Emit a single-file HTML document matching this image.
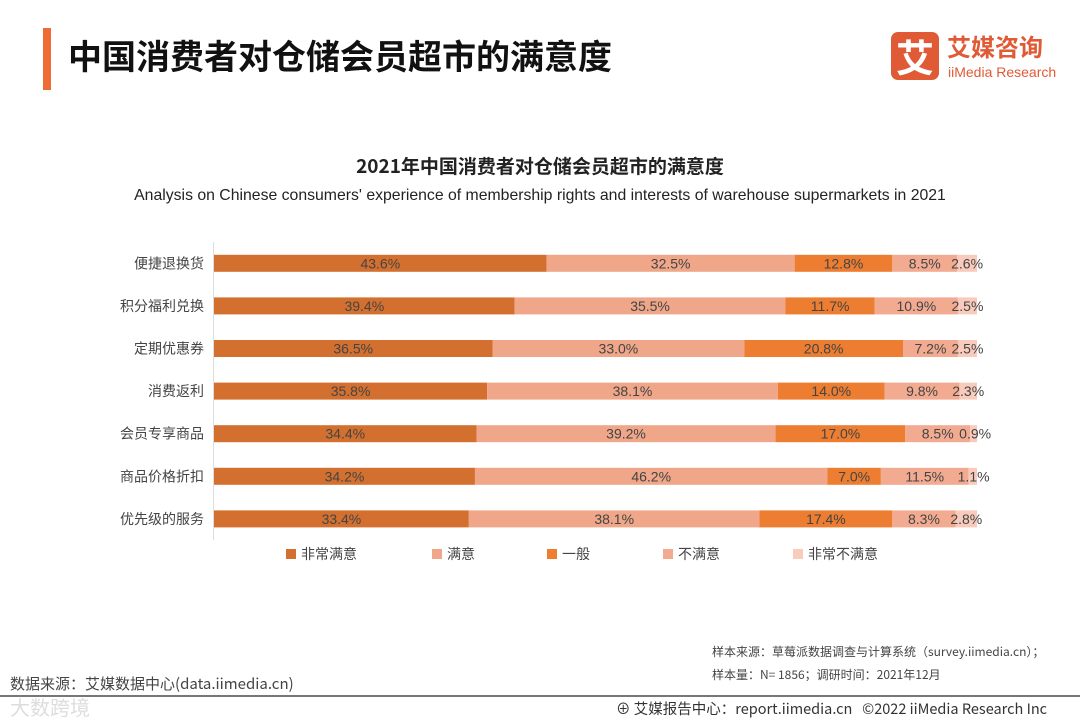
<!DOCTYPE html>
<html><head><meta charset="utf-8"><style>
body{margin:0;width:1080px;height:720px;background:#fff;position:relative;overflow:hidden;font-family:"Liberation Sans","Noto Sans CJK SC",sans-serif;}
.abs{position:absolute}
</style></head><body>
<div class="abs" style="left:43px;top:28px;width:8px;height:62px;background:#ee6b35"></div>
<div class="abs" style="left:68px;top:30px;font-size:34px;font-weight:bold;color:#111;font-family:'Noto Sans CJK SC',sans-serif">中国消费者对仓储会员超市的满意度</div>
<div class="abs" style="left:891px;top:32px;width:48px;height:48px;background:#e05a35;border-radius:7px;color:#fff;font-size:38px;line-height:48px;text-align:center;font-family:'Noto Sans CJK SC',sans-serif;font-weight:bold">艾</div>
<div class="abs" style="left:947px;top:30px;font-size:24px;font-weight:bold;color:#e05a35;font-family:'Noto Sans CJK SC',sans-serif;line-height:32px">艾媒咨询</div>
<div class="abs" style="left:948px;top:64px;font-size:14px;color:#e05a35">iiMedia Research</div>
<div class="abs" style="left:0;width:1080px;top:152px;text-align:center;font-size:19px;font-weight:bold;color:#222;font-family:'Noto Sans CJK SC',sans-serif">2021年中国消费者对仓储会员超市的满意度</div>
<div class="abs" style="left:0;width:1080px;top:187px;text-align:center;font-size:15.8px;color:#222">Analysis on Chinese consumers' experience of membership rights and interests of warehouse supermarkets in 2021</div>
<svg class="abs" style="left:0;top:0" width="1080" height="720" id="chart"></svg>
<div class="abs" style="left:712px;top:643px;font-size:12px;color:#444;font-family:'Noto Sans CJK SC',sans-serif">样本来源：草莓派数据调查与计算系统（survey.iimedia.cn）；</div>
<div class="abs" style="left:712px;top:666px;font-size:12px;color:#444;font-family:'Noto Sans CJK SC',sans-serif">样本量：N= 1856；调研时间：2021年12月</div>
<div class="abs" style="left:10px;top:673px;font-size:15px;color:#444;font-family:'Noto Sans CJK SC',sans-serif">数据来源：艾媒数据中心(data.iimedia.cn)</div>
<div class="abs" style="left:0;top:695px;width:1080px;height:2px;background:#777"></div>
<div class="abs" style="left:10px;top:692px;font-size:20px;color:#ddd;font-family:'Noto Sans CJK SC',sans-serif">大数跨境</div>
<div class="abs" style="left:616px;top:698px;font-size:14.5px;color:#333;font-family:'Noto Sans CJK SC',sans-serif">⊕ 艾媒报告中心：report.iimedia.cn &nbsp; ©2022 iiMedia Research Inc</div>
<script>
const categories=["便捷退换货","积分福利兑换","定期优惠券","消费返利","会员专享商品","商品价格折扣","优先级的服务"];
const seriesNames=["非常满意","满意","一般","不满意","非常不满意"];
const s1=[43.6,39.4,36.5,35.8,34.4,34.2,33.4];
const s2=[32.5,35.5,33.0,38.1,39.2,46.2,38.1];
const s3=[12.8,11.7,20.8,14.0,17.0,7.0,17.4];
const s4=[8.5,10.9,7.2,9.8,8.5,11.5,8.3];
const s5=[2.6,2.5,2.5,2.3,0.9,1.1,2.8];
const series=[s1,s2,s3,s4,s5];
const colors=["#d3702f","#f0a688","#ed7d31","#f2ab91","#f8cbbc"];
const svg=document.getElementById('chart');const NS='http://www.w3.org/2000/svg';
const x0=214,x1=977,yTop=242,band=42.6,bh=17;
const xs=v=>x0+(x1-x0)*v/100;
const yc=i=>yTop+band*(i+0.5);
function mk(t,a){const e=document.createElementNS(NS,t);for(const k in a)e.setAttribute(k,a[k]);svg.appendChild(e);return e;}
const ax=mk('line',{x1:x0-0.5,x2:x0-0.5,y1:yTop,y2:yTop+band*7,stroke:'#ddd','stroke-width':1});


categories.forEach((c,i)=>{
  const t=mk('text',{x:x0-10,y:yc(i)+5,'text-anchor':'end','font-size':14,fill:'#444','font-family':'Noto Sans CJK SC,sans-serif'});
  t.textContent=c;
  
  
  let acc=0;
  series.forEach((s,j)=>{
    const v=s[i];
    const r=mk('rect',{x:xs(acc),y:yc(i)-bh/2,width:xs(acc+v)-xs(acc),height:bh,fill:colors[j]});
    
    
    let cx=(xs(acc)+xs(acc+v))/2;
    if(j==4)cx=Math.max(cx,xs(acc)+5);
    const l=mk('text',{x:cx,y:yc(i)+5,'text-anchor':'middle','font-size':14,fill:'#444'});
    l.textContent=v.toFixed(1)+'%';
    
    
    acc+=v;
  });
});
const legX=[286,432,547,663,793];
seriesNames.forEach((n,j)=>{
  const r=mk('rect',{x:legX[j],y:549,width:10,height:10,fill:colors[j]});
  
  
  const t=mk('text',{x:legX[j]+15,y:559,'font-size':14,fill:'#444','font-family':'Noto Sans CJK SC,sans-serif'});
  t.textContent=n;
  
  
});
</script>
</body></html>
